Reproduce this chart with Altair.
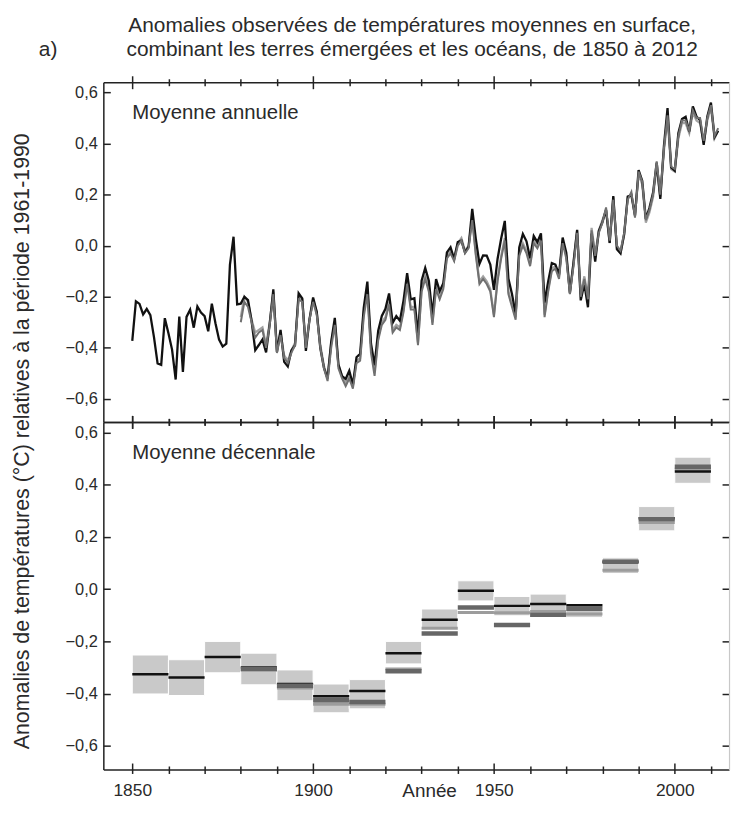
import altair as alt
import pandas as pd

# ---------------- data ----------------
years_hadcrut = list(range(1850, 2013))
hadcrut_annual = [
    -0.373, -0.218, -0.228, -0.269, -0.248, -0.272, -0.358, -0.461, -0.467, -0.284,
    -0.343, -0.407, -0.524, -0.278, -0.494, -0.279, -0.251, -0.321, -0.238, -0.262,
    -0.276, -0.335, -0.227, -0.304, -0.368, -0.395, -0.384, -0.075, 0.035, -0.230,
    -0.227, -0.200, -0.213, -0.296, -0.409, -0.389, -0.367, -0.418, -0.307, -0.171,
    -0.416, -0.330, -0.455, -0.473, -0.410, -0.390, -0.186, -0.206, -0.412, -0.289,
    -0.203, -0.259, -0.402, -0.479, -0.520, -0.377, -0.283, -0.465, -0.511, -0.522,
    -0.490, -0.544, -0.437, -0.424, -0.244, -0.141, -0.383, -0.468, -0.333, -0.275,
    -0.247, -0.187, -0.302, -0.276, -0.294, -0.215, -0.108, -0.210, -0.206, -0.350,
    -0.137, -0.087, -0.137, -0.273, -0.131, -0.178, -0.147, -0.026, -0.006, -0.052,
    0.014, 0.020, -0.027, -0.004, 0.144, 0.025, -0.071, -0.038, -0.039, -0.074,
    -0.173, -0.052, 0.028, 0.097, -0.129, -0.190, -0.267, -0.007, 0.046, 0.017,
    -0.049, 0.038, 0.014, 0.048, -0.223, -0.140, -0.068, -0.074, -0.113, 0.032,
    -0.027, -0.186, -0.065, 0.062, -0.214, -0.149, -0.241, 0.047, -0.062, 0.057,
    0.092, 0.140, 0.011, 0.194, -0.014, -0.030, 0.045, 0.192, 0.198, 0.118,
    0.296, 0.254, 0.105, 0.148, 0.208, 0.325, 0.183, 0.390, 0.539, 0.306,
    0.294, 0.441, 0.496, 0.505, 0.447, 0.545, 0.506, 0.491, 0.395, 0.506,
    0.560, 0.425, 0.450,
]

years_other = list(range(1880, 2013))
dark_annual = [
    -0.30, -0.22, -0.24, -0.30, -0.36, -0.34, -0.33, -0.40, -0.31, -0.19,
    -0.42, -0.35, -0.44, -0.46, -0.42, -0.39, -0.21, -0.22, -0.40, -0.29,
    -0.22, -0.27, -0.40, -0.48, -0.53, -0.40, -0.31, -0.48, -0.52, -0.55,
    -0.52, -0.56, -0.46, -0.45, -0.28, -0.19, -0.42, -0.51, -0.37, -0.31,
    -0.29, -0.23, -0.34, -0.32, -0.33, -0.26, -0.15, -0.25, -0.25, -0.39,
    -0.18, -0.13, -0.18, -0.31, -0.17, -0.21, -0.17, -0.05, -0.03, -0.06,
    0.00, 0.02, -0.03, -0.01, 0.10, -0.04, -0.15, -0.13, -0.15, -0.18,
    -0.28, -0.14, -0.05, 0.02, -0.19, -0.24, -0.29, -0.04, 0.00, -0.03,
    -0.08, 0.01, -0.01, 0.02, -0.28, -0.18, -0.10, -0.09, -0.13, 0.01,
    -0.05, -0.19, -0.08, 0.05, -0.20, -0.13, -0.21, 0.06, -0.04, 0.05,
    0.09, 0.15, 0.02, 0.18, 0.00, -0.02, 0.05, 0.18, 0.21, 0.11,
    0.29, 0.25, 0.10, 0.14, 0.20, 0.33, 0.20, 0.38, 0.51, 0.31,
    0.30, 0.43, 0.49, 0.49, 0.45, 0.53, 0.50, 0.50, 0.41, 0.50,
    0.55, 0.43, 0.46,
]
light_annual = [
    -0.28, -0.20, -0.22, -0.29, -0.34, -0.33, -0.32, -0.39, -0.30, -0.18,
    -0.41, -0.34, -0.43, -0.45, -0.41, -0.38, -0.20, -0.21, -0.39, -0.29,
    -0.21, -0.26, -0.39, -0.47, -0.52, -0.38, -0.30, -0.47, -0.51, -0.54,
    -0.51, -0.55, -0.45, -0.44, -0.26, -0.17, -0.40, -0.49, -0.36, -0.30,
    -0.28, -0.22, -0.33, -0.31, -0.32, -0.25, -0.14, -0.24, -0.24, -0.38,
    -0.17, -0.12, -0.16, -0.30, -0.16, -0.20, -0.16, -0.04, -0.02, -0.05,
    0.01, 0.03, -0.02, 0.00, 0.11, -0.03, -0.14, -0.12, -0.14, -0.17,
    -0.27, -0.13, -0.04, 0.03, -0.18, -0.23, -0.28, -0.03, 0.01, -0.02,
    -0.07, 0.02, 0.00, 0.03, -0.27, -0.17, -0.09, -0.08, -0.12, 0.02,
    -0.04, -0.18, -0.07, 0.06, -0.19, -0.12, -0.20, 0.07, -0.03, 0.06,
    0.10, 0.14, 0.01, 0.19, -0.01, -0.03, 0.04, 0.19, 0.20, 0.12,
    0.28, 0.24, 0.09, 0.13, 0.19, 0.31, 0.19, 0.37, 0.50, 0.30,
    0.29, 0.42, 0.48, 0.48, 0.44, 0.52, 0.49, 0.48, 0.40, 0.49,
    0.54, 0.42, 0.45,
]

decades = list(range(1850, 2010, 10))
dec_hadcrut = [-0.326, -0.338, -0.260, -0.300, -0.363, -0.410, -0.390, -0.245,
               -0.117, -0.006, -0.064, -0.057, -0.062, 0.105, 0.271, 0.450]
dec_low = [-0.401, -0.407, -0.320, -0.366, -0.427, -0.473, -0.458, -0.286,
           -0.153, -0.045, -0.102, -0.083, -0.108, 0.060, 0.223, 0.405]
dec_high = [-0.252, -0.270, -0.200, -0.245, -0.309, -0.363, -0.346, -0.200,
            -0.076, 0.032, -0.028, -0.019, -0.058, 0.120, 0.316, 0.505]
decades_other = list(range(1880, 2010, 10))
dec_dark = [-0.305, -0.370, -0.425, -0.432, -0.314, -0.170, -0.070, -0.137,
            -0.098, -0.075, 0.105, 0.268, 0.468]
dec_light = [-0.310, -0.378, -0.440, -0.440, -0.305, -0.150, -0.089, -0.090,
             -0.085, -0.095, 0.072, 0.255, 0.460]

x_ticks = list(range(1850, 2011, 10))
y_ticks = [-0.6, -0.4, -0.2, 0.0, 0.2, 0.4, 0.6]

title_line1 = "Anomalies observées de températures moyennes en surface,"
title_line2 = "combinant les terres émergées et les océans, de 1850 à 2012"
panel_tag = "a)"
y_title = "Anomalies de températures (°C) relatives à la période 1961-1990"
x_title = "Année"
label_annual = "Moyenne annuelle"
label_decadal = "Moyenne décennale"

# ---------------- layout constants ----------------
W = 630
H1 = 342
H2 = 350
TXT = "#2a2a2a"
AX = "#222222"
MAJOR = "datum.value % 50 == 0"

x_scale = alt.Scale(domain=[1842, 2015], nice=False, zero=False)
y_scale = alt.Scale(domain=[-0.69, 0.64], nice=False, zero=False)

black_df = pd.DataFrame({"year": years_hadcrut, "v": hadcrut_annual})
dark_df = pd.DataFrame({"year": years_other, "v": dark_annual})
light_df = pd.DataFrame({"year": years_other, "v": light_annual})
dec_df = pd.DataFrame({"dec": decades, "v": dec_hadcrut, "lo": dec_low, "hi": dec_high})
dec_dark_df = pd.DataFrame({"dec": decades_other, "v": dec_dark})
dec_light_df = pd.DataFrame({"dec": decades_other, "v": dec_light})


def tick_x(orient, offset=0, domain=False):
    return alt.Axis(orient=orient, offset=offset, values=x_ticks, labels=False,
                    domain=domain, domainColor=AX, domainWidth=1.5,
                    ticks=True,
                    tickSize={"condition": {"test": MAJOR, "value": 6.5}, "value": 3.5},
                    tickWidth=1.5, tickColor=AX,
                    grid=False, title=None)


def tick_y(orient, offset, size=7, domain=False, domain_color=AX):
    return alt.Axis(orient=orient, offset=offset, values=y_ticks, labels=False,
                    domain=domain, domainColor=domain_color, domainWidth=1.2,
                    ticks=True, tickSize=size, tickWidth=1.5, tickColor=AX,
                    grid=False, title=None)


def label_y(with_title):
    kw = dict(orient="left", values=y_ticks,
              labelExpr="replace(format(datum.value, '.1f'), '.', ',')",
              labelFontSize=16.5, labelColor=TXT, labelPadding=6, labelFlush=False,
              ticks=False, tickSize=0, domain=True, domainColor=AX, domainWidth=1.5,
              grid=False)
    if with_title:
        kw.update(title=y_title, titleFontSize=21.5, titleFontWeight="normal",
                  titleColor=TXT, titleAngle=270, titleX=-81, titleY=361,
                  titleAlign="center", titleBaseline="middle")
    else:
        kw.update(title=None)
    return alt.Axis(**kw)


def text_layer(txt, x, y, size, align="left"):
    df = pd.DataFrame({"t": [txt]})
    return alt.Chart(df).mark_text(
        align=align, baseline="middle", fontSize=size, color=TXT
    ).encode(x=alt.value(x), y=alt.value(y), text="t:N")


# ---------------- top panel: annual ----------------
top_light = alt.Chart(light_df).mark_line(color="#a2a2a2", strokeWidth=2.2).encode(
    x=alt.X("year:Q", scale=x_scale, axis=tick_x("bottom", domain=True)),
    y=alt.Y("v:Q", scale=y_scale, axis=label_y(True)),
)
top_black = alt.Chart(black_df).mark_line(color="#111111", strokeWidth=2.3).encode(
    x=alt.X("year:Q", scale=x_scale, axis=tick_x("top", offset=-H1)),
    y=alt.Y("v:Q", scale=y_scale, axis=tick_y("left", -W, domain=True, domain_color="#c8c8c8")),
)
top_dark = alt.Chart(dark_df).mark_line(color="#707070", strokeWidth=2).encode(
    x=alt.X("year:Q", scale=x_scale, axis=tick_x("top", domain=True)),
    y=alt.Y("v:Q", scale=y_scale, axis=tick_y("right", -W)),
)
top_label_df = pd.DataFrame({"x": [1850], "y": [0.52], "t": [label_annual]})
top_label = alt.Chart(top_label_df).mark_text(
    align="left", baseline="middle", fontSize=20.5, color=TXT
).encode(
    x=alt.X("x:Q", scale=x_scale, axis=tick_x("bottom", offset=-H1)),
    y=alt.Y("y:Q", scale=y_scale, axis=None),
    text="t:N",
)

top = alt.layer(
    top_light, top_black, top_dark, top_label,
    text_layer(title_line1, 311, -57, 21, "center"),
    text_layer(title_line2, 311, -32, 21, "center"),
    text_layer(panel_tag, -65, -32, 21),
).resolve_axis(
    x="independent", y="independent"
).properties(width=W, height=H1)

# ---------------- bottom panel: decadal ----------------
bot_box = alt.Chart(dec_df).transform_calculate(end="datum.dec + 10").mark_rect(
    color="#c9c9c9", stroke="white", strokeWidth=1
).encode(
    x=alt.X("dec:Q", scale=x_scale, axis=alt.Axis(
        orient="bottom", values=x_ticks,
        labelExpr="datum.value % 50 == 0 ? format(datum.value, 'd') : ''",
        labelFontSize=17.5, labelColor=TXT, labelPadding=8, labelFlush=False,
        labelOverlap=False, domain=True, domainColor=AX, domainWidth=1.5,
        ticks=True, tickSize=4, tickWidth=1.5, tickColor=AX, grid=False,
        title=x_title, titleFontSize=19, titleFontWeight="normal", titleColor=TXT,
        titleX=328, titleY=21, titleAlign="center", titleBaseline="middle")),
    x2="end:Q",
    y=alt.Y("lo:Q", scale=y_scale, axis=label_y(False)),
    y2="hi:Q",
)
bot_light = alt.Chart(dec_light_df).transform_calculate(end="datum.dec + 10").mark_rule(
    color="#9c9c9c", strokeWidth=3
).encode(
    x=alt.X("dec:Q", scale=x_scale, axis=tick_x("top", domain=True)),
    x2="end:Q",
    y=alt.Y("v:Q", scale=y_scale, axis=tick_y("right", -W)),
)
bot_black = alt.Chart(dec_df).transform_calculate(end="datum.dec + 10").mark_rule(
    color="#111111", strokeWidth=2.5
).encode(
    x=alt.X("dec:Q", scale=x_scale, axis=tick_x("top", offset=-H2)),
    x2="end:Q",
    y=alt.Y("v:Q", scale=y_scale, axis=tick_y("left", -W, domain=True, domain_color="#c8c8c8")),
)
bot_dark = alt.Chart(dec_dark_df).transform_calculate(end="datum.dec + 10").mark_rule(
    color="#666666", strokeWidth=4.5
).encode(
    x=alt.X("dec:Q", scale=x_scale, axis=tick_x("bottom", offset=-H2)),
    x2="end:Q",
    y=alt.Y("v:Q", scale=y_scale, axis=None),
)
bot_label_df = pd.DataFrame({"x": [1850], "y": [0.52], "t": [label_decadal]})
bot_label = alt.Chart(bot_label_df).mark_text(
    align="left", baseline="middle", fontSize=20.5, color=TXT
).encode(
    x=alt.X("x:Q", scale=x_scale, axis=None),
    y=alt.Y("y:Q", scale=y_scale, axis=None),
    text="t:N",
)

bottom = alt.layer(bot_box, bot_light, bot_black, bot_dark, bot_label).resolve_axis(
    x="independent", y="independent"
).properties(width=W, height=H2)

chart = alt.vconcat(top, bottom, spacing=0, bounds="flush").properties(
    padding={"left": 3, "top": 4, "right": 2, "bottom": 0}
).configure(
    font="Liberation Sans"
).configure_view(stroke=None)

chart.save("out.html", embed_options={"renderer": "svg", "actions": False})
